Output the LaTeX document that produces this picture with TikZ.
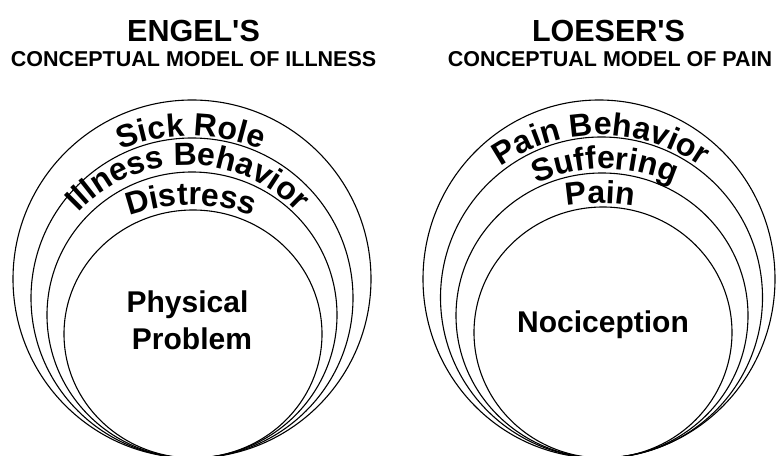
\documentclass[tikz,border=0pt]{standalone}
\usepackage{fontspec}
\setmainfont{Liberation Sans}
\usetikzlibrary{decorations.text}
\tikzset{
  ring/.style={line width=1.1pt},
  arclabel/.style={decoration={text along path, text align=center,
      text={|\bfseries\fontsize{32}{36}\selectfont|#1}}, decorate},
  title/.style={font=\bfseries\fontsize{30.5}{34}\selectfont, anchor=base, inner sep=0pt},
  subtitle/.style={font=\bfseries\fontsize{21.5}{25}\selectfont, anchor=base, inner sep=0pt},
  inlabel/.style={font=\bfseries\fontsize{30}{36}\selectfont, anchor=base, inner sep=0pt}
}
\begin{document}
\begin{tikzpicture}[x=1pt,y=1pt]
\useasboundingbox (0,0) rectangle (776,455);
\clip (0,0) rectangle (776,455);
% titles
\node[title] (tE) at (193.5,413) {ENGEL\textquotesingle S};
\node[subtitle] (sE) at (193.5,388) {CONCEPTUAL MODEL OF ILLNESS};
\node[title] (tL) at (608.5,413) {LOESER\textquotesingle S};
\node[subtitle] (sL) at (610,388) {CONCEPTUAL MODEL OF PAIN};
% left rings
\coordinate (L1) at (192,176);
\coordinate (L2) at (192,157);
\coordinate (L3) at (192,140);
\coordinate (L4) at (193,121);
\draw[ring] (L1) ellipse [x radius=179, y radius=179];
\draw[ring] (L2) ellipse [x radius=161, y radius=160];
\draw[ring] (L3) ellipse [x radius=145, y radius=143];
\draw[ring] (L4) ellipse [x radius=129, y radius=124];
% right rings
\coordinate (R1) at (599,176);
\coordinate (R2) at (601.5,157.5);
\coordinate (R3) at (602,139.5);
\coordinate (R4) at (603,122.5);
\draw[ring] (R1) ellipse [x radius=176, y radius=179];
\draw[ring] (R2) ellipse [x radius=161, y radius=160.5];
\draw[ring] (R3) ellipse [x radius=146, y radius=142.5];
\draw[ring] (R4) ellipse [x radius=129, y radius=125.5];
% left arc labels
\coordinate (aS) at (191,129);
\coordinate (aI) at (188,140);
\coordinate (aD) at (191,70);
\path[arclabel={Sick Role}] ([shift={(125:190)}]aS) arc[start angle=125, end angle=55, radius=190];
\path[arclabel={Illness Behavior}] ([shift={(155:150)}]aI) arc[start angle=155, end angle=25, radius=150];
\path[arclabel={Distress}] ([shift={(120:180)}]aD) arc[start angle=120, end angle=60, radius=180];
% right arc labels
\coordinate (bP) at (601,145);
\coordinate (bS) at (605,121);
\coordinate (bN) at (600,52);
\path[arclabel={Pain Behavior}] ([shift={(150:175)}]bP) arc[start angle=150, end angle=30, radius=175];
\path[arclabel={Suffering}] ([shift={(130:165)}]bS) arc[start angle=130, end angle=50, radius=165];
\path[arclabel={Pain}] ([shift={(115:200)}]bN) arc[start angle=115, end angle=65, radius=200];
% inner labels
\node[inlabel] (phys) at (187.5,142) {Physical};
\node[inlabel] (prob) at (192,105) {Problem};
\node[inlabel] (noci) at (603,122) {Nociception};
\end{tikzpicture}
\end{document}
